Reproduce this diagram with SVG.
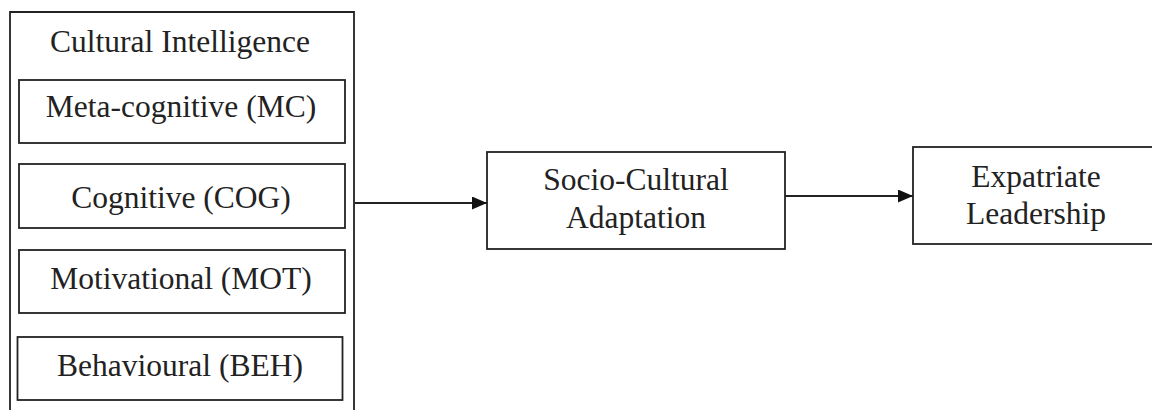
<svg xmlns="http://www.w3.org/2000/svg" width="1152" height="410" viewBox="0 0 1152 410">
<style>
.box{fill:#fff;stroke:#222;stroke-width:1.8}
.t{font-family:"Liberation Serif","Times New Roman",serif;font-size:31.5px;fill:#222;text-anchor:middle}
.c{stroke:#222;stroke-width:1.8;fill:none}
</style>
<defs>
<marker id="ah" markerWidth="15" markerHeight="13" refX="15" refY="6.5" orient="auto" markerUnits="userSpaceOnUse">
<path d="M0,0 L15,6.5 L0,13 Z" fill="#111"/>
</marker>
</defs>
<rect width="1152" height="410" fill="#fff"/>
<g id="cultural-intelligence">
<path class="c" d="M10,420 V12 H354 V420"/>
<text class="t" x="180" y="52">Cultural Intelligence</text>
</g>
<g id="mc">
<rect class="box" x="19" y="80" width="326" height="63"/>
<text class="t" x="181" y="117">Meta-cognitive (MC)</text>
</g>
<g id="cog">
<rect class="box" x="19" y="164" width="326" height="64"/>
<text class="t" x="181" y="208">Cognitive (COG)</text>
</g>
<g id="mot">
<rect class="box" x="19" y="250" width="326" height="63"/>
<text class="t" x="181" y="289">Motivational (MOT)</text>
</g>
<g id="beh">
<rect class="box" x="17.5" y="337" width="325" height="63"/>
<text class="t" x="180" y="376">Behavioural (BEH)</text>
</g>
<g id="sca">
<rect class="box" x="487" y="152" width="298" height="97"/>
<text class="t" x="636" y="190">Socio-Cultural</text>
<text class="t" x="636" y="228">Adaptation</text>
</g>
<g id="el">
<rect class="box" x="913" y="147" width="246" height="97"/>
<text class="t" x="1036" y="187">Expatriate</text>
<text class="t" x="1036" y="224">Leadership</text>
</g>
<g id="connectors">
<line class="c" x1="355" y1="203" x2="487" y2="203" marker-end="url(#ah)"/>
<line class="c" x1="785" y1="196" x2="913" y2="196" marker-end="url(#ah)"/>
</g>
</svg>
